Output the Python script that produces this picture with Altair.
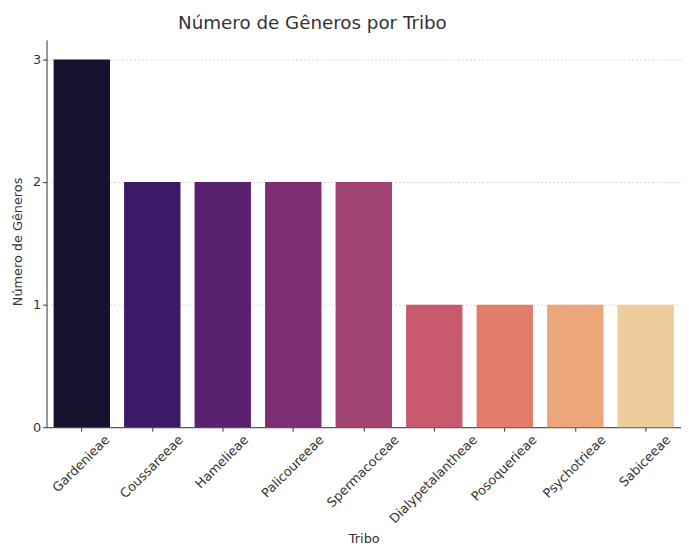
import altair as alt
import pandas as pd

tribes = ["Gardenieae", "Coussareeae", "Hamelieae", "Palicoureeae", "Spermacoceae",
          "Dialypetalantheae", "Posoquerieae", "Psychotrieae", "Sabiceeae"]
counts = [3, 2, 2, 2, 2, 1, 1, 1, 1]
colors = ["#17112f", "#3c1a68", "#5b2171", "#7c2f74", "#a14474",
          "#c95a6e", "#e27c6b", "#eca67a", "#efcc9c"]

df = pd.DataFrame({"Tribo": tribes, "Gêneros": counts})

font = "DejaVu Sans"
label_size = 13

# Emulate matplotlib's centred rotated labels: shift each label by ~0.354 of its text width
def text_width(s, size):
    w = {"G": 775, "a": 613, "r": 411, "d": 635, "e": 615, "n": 634, "i": 278, "C": 698,
         "o": 612, "u": 634, "s": 521, "H": 752, "m": 974, "l": 278, "P": 603, "c": 550,
         "S": 635, "p": 635, "D": 770, "y": 592, "t": 392, "h": 634, "q": 635, "b": 635}
    return sum(w.get(ch, 600) for ch in s) * size / 1000.0

conds = [{"test": f"datum.value == '{t}'",
          "value": round(0.354 * text_width(t, label_size) - 5, 1)} for t in tribes]

chart = alt.Chart(df).mark_bar(width={"band": 0.8}).encode(
    x=alt.X("Tribo:N", sort=tribes, title="Tribo",
            scale=alt.Scale(paddingInner=0.0, paddingOuter=0.0),
            axis=alt.Axis(labelAngle=-45, labelAlign="right", labelBaseline="top",
                          labelOffset={"condition": conds, "value": 22},
                          labelFontSize=label_size, labelColor="#333333", labelPadding=2,
                          titleFontSize=13, titleColor="#333333", titleFontWeight="normal",
                          titleBaseline="alphabetic", titleY=117,
                          tickSize=4, domainColor="#333333",
                          tickColor="#333333", grid=False)),
    y=alt.Y("Gêneros:Q", title="Número de Gêneros",
            scale=alt.Scale(domain=[0, 3.16], nice=False),
            axis=alt.Axis(values=[0, 1, 2, 3], format="d", labelFontSize=13,
                          labelColor="#333333", titleFontSize=13, titleColor="#333333",
                          titleFontWeight="normal", titlePadding=8, titleY=204,
                          tickSize=4, domainColor="#333333", tickColor="#333333",
                          grid=True, gridColor="#cccccc", gridDash=[2, 2], gridWidth=0.8)),
    color=alt.Color("Tribo:N", sort=tribes,
                    scale=alt.Scale(domain=tribes, range=colors), legend=None),
).properties(
    width=642,
    height=392,
    title=alt.TitleParams("Número de Gêneros por Tribo", fontSize=18.5, font=font,
                          fontWeight="normal", color="#333333", anchor="middle",
                          dx=-52, offset=7),
    autosize=alt.AutoSizeParams(type="none"),
    padding={"left": 39, "top": 29, "right": 0, "bottom": 118},
).configure(font=font).configure_view(stroke=None)

chart.save("out.html", embed_options={"renderer": "svg", "actions": False})
